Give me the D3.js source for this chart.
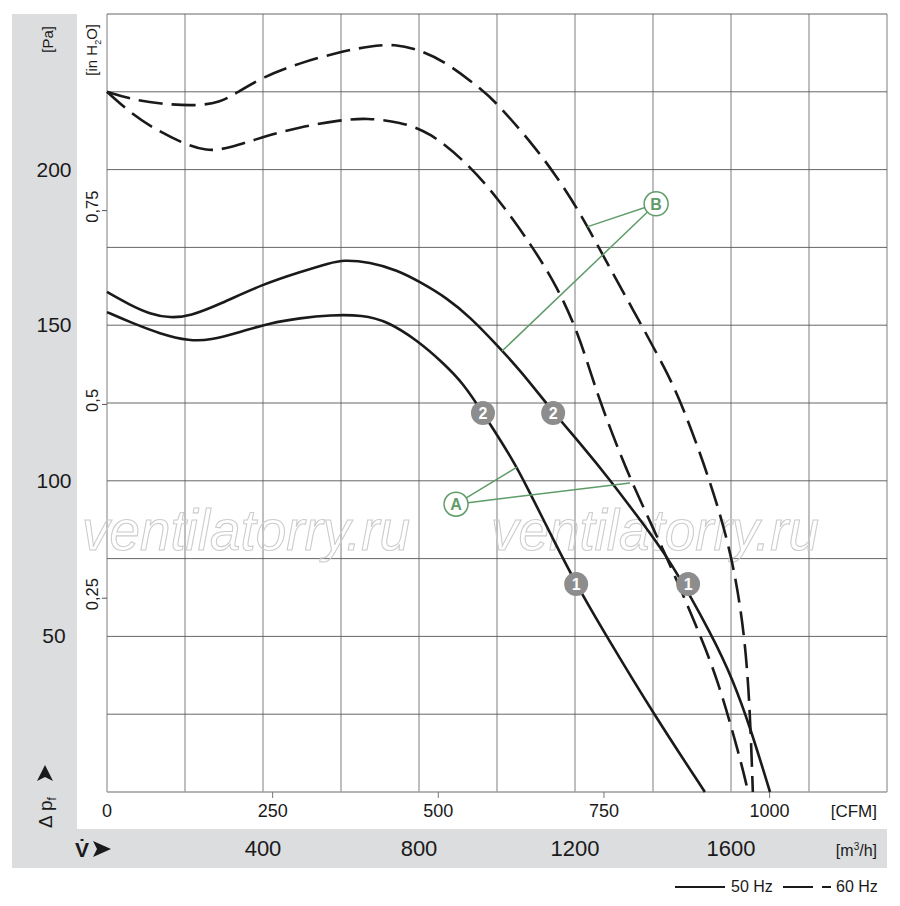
<!DOCTYPE html>
<html>
<head>
<meta charset="utf-8">
<script src="https://cdn.jsdelivr.net/npm/d3@7"></script>
<style>
body { margin: 0; background: #fff; }
text { font-family: "Liberation Sans Narrow", "Arial Narrow", "Liberation Sans", Arial, sans-serif; fill: #1a1a1a; }
</style>
</head>
<body>
<div id="chart"></div>
<script>
// flow in m3/h, static pressure in Pa
const flowA50 = [0, 59, 136, 213, 264, 341, 418, 495, 572, 656, 718, 795, 862, 913, 964, 1041, 1077, 1149, 1203, 1282, 1400, 1533];
const paA50   = [154.2, 151, 147.2, 144.9, 145.2, 147.8, 150.7, 152.3, 153.3, 153.3, 151.3, 145.2, 137.9, 131.4, 121.8, 106.7, 98, 80, 66.8, 49.8, 25.4, 0];

const flowB50 = [0, 59, 110, 162, 213, 290, 400, 495, 572, 605, 674, 744, 803, 872, 931, 1000, 1059, 1144, 1213, 1290, 1367, 1444, 1554, 1605, 1649, 1700];
const paB50   = [160.7, 156.5, 153.6, 152.3, 152.9, 156.8, 163.2, 167.1, 170, 171, 170.3, 167.7, 163.9, 158.7, 152.6, 143.6, 135.6, 122.1, 112.1, 100.3, 87.4, 74.6, 49.8, 36, 20.9, 0];

const flowA60 = [0, 67, 128, 187, 256, 315, 400, 495, 597, 667, 751, 828, 923, 1000, 1092, 1154, 1205, 1246, 1272, 1341, 1436, 1515, 1564, 1623, 1644];
const paA60   = [225, 217.5, 212.7, 208.9, 205.7, 207, 210.5, 213.7, 215.9, 216.6, 215.3, 212.1, 202.1, 191.2, 175.1, 162.3, 148.5, 132.4, 122.8, 100.3, 75.5, 52.1, 37, 11.2, 0];

const flowB60 = [0, 59, 136, 231, 290, 328, 400, 495, 597, 674, 738, 803, 872, 956, 1000, 1097, 1154, 1213, 1264, 1349, 1436, 1477, 1546, 1603, 1636, 1649, 1656];
const paB60   = [225, 222.7, 221.1, 220.4, 221.7, 224.3, 229.8, 234.3, 237.8, 239.7, 240.4, 238.4, 234.3, 226.2, 221.4, 207.3, 197.6, 186.1, 174.2, 154.9, 135, 123.7, 100.3, 76.2, 50.1, 25.4, 0];

// operating point markers
const badgeFlow = [964, 1144, 1203, 1490];
const badgePa   = [121.8, 121.8, 66.8, 66.8];
const badgeText = ["2", "2", "1", "1"];

// A / B callouts
const calloutText = ["A", "B"];
const calloutFlow = [895, 1408];
const calloutPa   = [92.5, 189];
const targetFlow  = [[1051, 1341], [1231, 1013]];
const targetPa    = [[104.4, 99.3], [181.6, 141.7]];

// ticks
const paTicks   = [50, 100, 150, 200];
const inTicks   = [0.25, 0.5, 0.75];
const cfmTicks  = [0, 250, 500, 750, 1000];
const m3hTicks  = [400, 800, 1200, 1600];

const widthSvg = 900, heightSvg = 906;
const gray = "#dcdddf", green = "#5f9c69";

const svg = d3.select("#chart").append("svg")
    .attr("width", widthSvg)
    .attr("height", heightSvg);

const x = d3.scaleLinear().domain([0, 2000]).range([107, 887]);
const y = d3.scaleLinear().domain([0, 250]).range([792, 14]);
const xCfm = v => x(v * 1.699);
const yIn = v => y(v * 249.09);

// grey frame
svg.append("rect").attr("x", 12).attr("y", 14).attr("width", 65).attr("height", 854).attr("fill", gray);
svg.append("rect").attr("x", 12).attr("y", 829).attr("width", 875).attr("height", 39).attr("fill", gray);

// grid
svg.append("g").selectAll("line")
    .data(d3.range(0, 2001, 200))
    .enter().append("line")
    .attr("x1", d => x(d)).attr("x2", d => x(d))
    .attr("y1", y(250)).attr("y2", y(0))
    .attr("stroke", "#9b9b9b").attr("stroke-width", 1.3);

svg.append("g").selectAll("line")
    .data(d3.range(25, 251, 25))
    .enter().append("line")
    .attr("x1", x(0)).attr("x2", x(2000))
    .attr("y1", d => y(d)).attr("y2", d => y(d))
    .attr("stroke", "#555").attr("stroke-width", 0.9);

svg.append("line")
    .attr("x1", x(0)).attr("x2", x(2000))
    .attr("y1", y(0)).attr("y2", y(0))
    .attr("stroke", "#9b9b9b").attr("stroke-width", 1.5);

// watermark
svg.append("g").selectAll("text")
    .data([82, 491])
    .enter().append("text")
    .attr("x", d => d).attr("y", 550)
    .attr("textLength", 328).attr("lengthAdjust", "spacingAndGlyphs")
    .style("font-family", "'Liberation Sans', Arial, sans-serif")
    .style("font-style", "italic")
    .style("font-size", "57px")
    .style("fill", "none")
    .style("stroke", "#cccccc")
    .style("stroke-width", 1.1)
    .text("ventilatorry.ru");

// Pa axis
svg.append("g").selectAll("text")
    .data(paTicks)
    .enter().append("text")
    .attr("x", 54).attr("y", d => y(d) + 7)
    .attr("text-anchor", "middle")
    .style("font-size", "21px")
    .text(d => d);

svg.append("text")
    .attr("transform", "translate(53,26) rotate(-90)")
    .attr("text-anchor", "end")
    .style("font-size", "15px")
    .text("[Pa]");

// in H2O axis
svg.append("g").selectAll("line")
    .data(inTicks)
    .enter().append("line")
    .attr("x1", 102).attr("x2", 107)
    .attr("y1", d => yIn(d)).attr("y2", d => yIn(d))
    .attr("stroke", "#555");

svg.append("g").selectAll("text")
    .data(inTicks)
    .enter().append("text")
    .attr("transform", d => "translate(98," + (yIn(d) - 4) + ") rotate(-90)")
    .attr("text-anchor", "middle")
    .style("font-size", "16.5px")
    .text(d => String(d).replace(".", ","));

const inLabel = svg.append("text")
    .attr("transform", "translate(97,24) rotate(-90)")
    .attr("text-anchor", "end")
    .style("font-size", "15px");
inLabel.append("tspan").text("[in H");
inLabel.append("tspan").attr("dy", 4).style("font-size", "9px").text("2");
inLabel.append("tspan").attr("dy", -4).text("O]");

// delta p label with arrow
const dpLabel = svg.append("text")
    .attr("transform", "translate(52,828) rotate(-90)")
    .style("font-size", "19px");
dpLabel.append("tspan").text("Δ p");
dpLabel.append("tspan").attr("dy", 4).style("font-size", "12px").text("f");

svg.append("path")
    .attr("transform", "translate(45,774)")
    .attr("d", "M0,-9 L8,7 L0,3 L-8,7 Z")
    .attr("fill", "#1a1a1a");

// CFM axis
svg.append("g").selectAll("line")
    .data(cfmTicks.slice(1))
    .enter().append("line")
    .attr("x1", d => xCfm(d)).attr("x2", d => xCfm(d))
    .attr("y1", y(0)).attr("y2", y(0) + 6)
    .attr("stroke", "#777");

svg.append("g").selectAll("text")
    .data(cfmTicks)
    .enter().append("text")
    .attr("x", d => xCfm(d)).attr("y", 817)
    .attr("text-anchor", "middle")
    .style("font-size", "18px")
    .text(d => d);

svg.append("text")
    .attr("x", 877).attr("y", 817)
    .attr("text-anchor", "end")
    .style("font-size", "17px")
    .text("[CFM]");

// m3/h axis in the grey band
svg.append("g").selectAll("text")
    .data(m3hTicks)
    .enter().append("text")
    .attr("x", d => x(d)).attr("y", 856)
    .attr("text-anchor", "middle")
    .style("font-size", "22px")
    .text(d => d);

const m3Label = svg.append("text")
    .attr("x", 877).attr("y", 856)
    .attr("text-anchor", "end")
    .style("font-size", "16px");
m3Label.append("tspan").text("[m");
m3Label.append("tspan").attr("dy", -6).style("font-size", "10px").text("3");
m3Label.append("tspan").attr("dy", 6).text("/h]");

svg.append("text")
    .attr("x", 75).attr("y", 857)
    .style("font-size", "21px")
    .style("font-weight", "bold")
    .text("V\u0307");

svg.append("path")
    .attr("transform", "translate(101,849)")
    .attr("d", "M10,0 L-8,-8 L-4,0 L-8,8 Z")
    .attr("fill", "#1a1a1a");

// curves
const line = d3.line()
    .x(d => x(d[0]))
    .y(d => y(d[1]))
    .curve(d3.curveBasis);

const curves = [
    { flow: flowA50, pa: paA50, dash: null },
    { flow: flowB50, pa: paB50, dash: null },
    { flow: flowA60, pa: paA60, dash: "24,9" },
    { flow: flowB60, pa: paB60, dash: "24,9" }
];

svg.append("g").selectAll("path")
    .data(curves)
    .enter().append("path")
    .attr("d", d => line(d.flow.map((f, i) => [f, d.pa[i]])))
    .attr("fill", "none")
    .attr("stroke", "#1a1a1a")
    .attr("stroke-width", 2.6)
    .attr("stroke-dasharray", d => d.dash);

// callout leader lines
calloutText.forEach((t, i) => {
    targetFlow[i].forEach((tf, j) => {
        svg.append("line")
            .attr("x1", x(calloutFlow[i])).attr("y1", y(calloutPa[i]))
            .attr("x2", x(tf)).attr("y2", y(targetPa[i][j]))
            .attr("stroke", green).attr("stroke-width", 1.5);
    });
});

const callouts = svg.append("g").selectAll("g")
    .data(calloutText)
    .enter().append("g")
    .attr("transform", (d, i) => "translate(" + x(calloutFlow[i]) + "," + y(calloutPa[i]) + ")");

callouts.append("circle")
    .attr("r", 12)
    .attr("fill", "#fff")
    .attr("stroke", green)
    .attr("stroke-width", 1.5);

callouts.append("text")
    .attr("y", 6)
    .attr("text-anchor", "middle")
    .style("font-size", "16px")
    .style("font-weight", "bold")
    .style("fill", green)
    .text(d => d);

// numbered badges
const badges = svg.append("g").selectAll("g")
    .data(badgeText)
    .enter().append("g")
    .attr("transform", (d, i) => "translate(" + x(badgeFlow[i]) + "," + y(badgePa[i]) + ")");

badges.append("circle")
    .attr("r", 12)
    .attr("fill", "#8d8d8d");

badges.append("text")
    .attr("y", 6)
    .attr("text-anchor", "middle")
    .style("font-size", "16px")
    .style("font-weight", "bold")
    .style("fill", "#fff")
    .text(d => d);

// legend
svg.append("line")
    .attr("x1", 675).attr("x2", 725).attr("y1", 887).attr("y2", 887)
    .attr("stroke", "#1a1a1a").attr("stroke-width", 2.2);
svg.append("text")
    .attr("x", 731).attr("y", 892)
    .style("font-size", "16px")
    .text("50 Hz");
svg.append("line")
    .attr("x1", 783).attr("x2", 831).attr("y1", 887).attr("y2", 887)
    .attr("stroke", "#1a1a1a").attr("stroke-width", 2.2)
    .attr("stroke-dasharray", "30,9,9");
svg.append("text")
    .attr("x", 836).attr("y", 892)
    .style("font-size", "16px")
    .text("60 Hz");
</script>
</body>
</html>
